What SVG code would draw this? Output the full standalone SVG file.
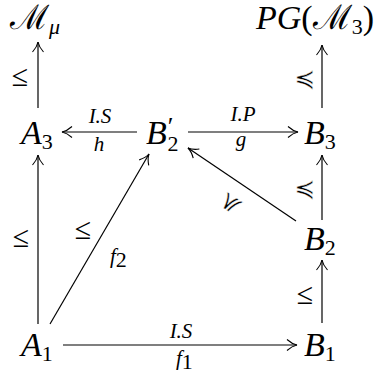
<svg xmlns="http://www.w3.org/2000/svg" width="385" height="379" viewBox="0 0 385 379">
<style>
.n{font-family:"Liberation Serif","DejaVu Serif",serif;font-style:italic;font-size:34px;fill:#000}
.s{font-size:22px;font-style:normal}
.si{font-size:22px;font-style:italic}
.u{font-family:"Liberation Serif","DejaVu Serif",serif;font-style:normal}
.l{font-family:"Liberation Serif","DejaVu Serif",serif;font-style:italic;font-size:21px;fill:#000}
.r{font-family:"Liberation Serif","DejaVu Serif",serif;font-size:30px;fill:#000}
.p{font-family:"DejaVu Sans",serif;font-size:25px;fill:#000;stroke:#fff;stroke-width:0.45}
.c{stroke:#000;stroke-width:1.2;fill:none}
</style>
<defs>
<marker id="ah" markerWidth="14" markerHeight="14" refX="12" refY="7" orient="auto" markerUnits="userSpaceOnUse">
<path d="M2,1.5 Q7,6 12,7 Q7,8 2,12.5" fill="none" stroke="#000" stroke-width="1.1"/>
</marker>
</defs>
<g id="Mmu"><text class="n" x="10" y="29"><tspan class="u">ℳ</tspan><tspan class="si" dy="5">μ</tspan></text></g>
<g id="PG"><text class="n" x="256" y="29">PG<tspan class="u">(ℳ</tspan><tspan class="s" dy="5">3</tspan><tspan class="u" dy="-5">)</tspan></text></g>
<g id="A3"><text class="n" x="21" y="144">A<tspan class="s" dy="5">3</tspan></text></g>
<g id="B2p"><text class="n" x="146" y="144">B<tspan class="u" font-size="26" dx="1" dy="-9">′</tspan><tspan class="s" dx="-6" dy="16">2</tspan></text></g>
<g id="B3"><text class="n" x="304" y="144">B<tspan class="s" dy="5">3</tspan></text></g>
<g id="B2"><text class="n" x="304" y="250">B<tspan class="s" dy="5">2</tspan></text></g>
<g id="A1"><text class="n" x="21" y="356">A<tspan class="s" dy="5">1</tspan></text></g>
<g id="B1"><text class="n" x="304" y="356">B<tspan class="s" dy="5">1</tspan></text></g>
<g id="connectors">
<line class="c" x1="38" y1="108" x2="38" y2="42" marker-end="url(#ah)"/>
<line class="c" x1="38" y1="324" x2="38" y2="155" marker-end="url(#ah)"/>
<line class="c" x1="322" y1="108" x2="322" y2="45" marker-end="url(#ah)"/>
<line class="c" x1="322" y1="220" x2="322" y2="155" marker-end="url(#ah)"/>
<line class="c" x1="322" y1="323" x2="322" y2="260" marker-end="url(#ah)"/>
<line class="c" x1="137" y1="132" x2="62" y2="132" marker-end="url(#ah)"/>
<line class="c" x1="188" y1="132" x2="298" y2="132" marker-end="url(#ah)"/>
<line class="c" x1="63" y1="345" x2="297" y2="345" marker-end="url(#ah)"/>
<line class="c" x1="50" y1="324" x2="149" y2="154" marker-end="url(#ah)"/>
<line class="c" x1="296" y1="221" x2="188" y2="148" marker-end="url(#ah)"/>
<text class="r" x="20" y="86" text-anchor="middle">≤</text>
<text class="r" x="21" y="247" text-anchor="middle">≤</text>
<text class="r" x="83" y="239" text-anchor="middle">≤</text>
<text class="l" x="110" y="263">f<tspan class="s" font-size="14" dy="4">2</tspan></text>
<text class="p" x="305" y="87" text-anchor="middle">≼</text>
<text class="p" x="305" y="197" text-anchor="middle">≼</text>
<text class="r" x="305" y="304" text-anchor="middle">≤</text>
<text class="p" transform="translate(230,203) rotate(-56)" text-anchor="middle" dy="8">≼</text>
<text class="l" x="100" y="123" text-anchor="middle">I.S</text>
<text class="l" x="99" y="151" text-anchor="middle">h</text>
<text class="l" x="243" y="121" text-anchor="middle">I.P</text>
<text class="l" x="241" y="146" text-anchor="middle">g</text>
<text class="l" x="181" y="338" text-anchor="middle">I.S</text>
<text class="l" x="176" y="365">f<tspan class="s" font-size="14" dy="4">1</tspan></text>
</g>
</svg>
